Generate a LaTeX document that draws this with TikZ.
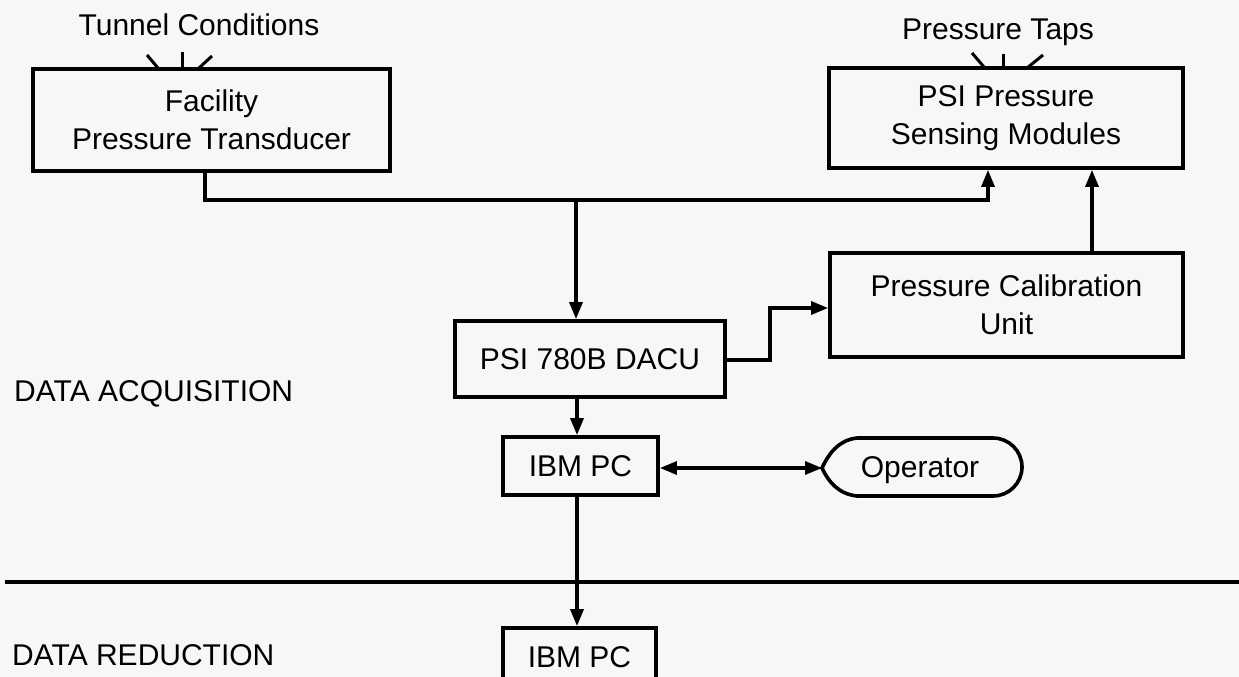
\documentclass[tikz,border=0pt]{standalone}
\usepackage{fontspec}
\setmainfont{Liberation Sans}
\usetikzlibrary{arrows.meta}
\definecolor{bg}{RGB}{247,247,247}
\begin{document}
\begin{tikzpicture}[x=1pt,y=-1pt,
  box/.style={draw, line width=3.8pt, inner sep=0pt, align=center, font=\fontsize{30}{38}\selectfont},
  lbl/.style={inner sep=0pt, font=\fontsize{30}{38}\selectfont},
  conn/.style={line width=3.2pt, -{Triangle[length=17pt,width=13pt]}},
  dconn/.style={line width=3.2pt, {Triangle[length=17pt,width=13pt]}-{Triangle[length=17pt,width=13pt]}},
  tick/.style={line width=3pt},
  divider/.style={line width=3.6pt}]
\useasboundingbox (0,0) rectangle (1239,677);
\fill[bg] (0,0) rectangle (1239,677);
\clip (0,0) rectangle (1239,677);

% nodes
\node[lbl] (tc) at (199,25) {Tunnel Conditions};
\node[box, minimum width=357pt, minimum height=102pt] (fac) at (211.5,120) {Facility\\Pressure Transducer};
\node[lbl] (pt) at (998,32) {Pressure Taps};
\node[box, minimum width=354pt, minimum height=100pt] (psi) at (1006,118) {PSI Pressure\\Sensing Modules};
\node[box, minimum width=353pt, minimum height=104pt] (cal) at (1006.5,305) {Pressure Calibration\\Unit};
\node[box, minimum width=270pt, minimum height=76pt] (dacu) at (590,359) {PSI 780B DACU};
\node[box, minimum width=155pt, minimum height=58pt] (pc1) at (580.5,466) {IBM PC};
\node[lbl] (op) at (920,470) {Operator};
\node[box, minimum width=153pt, minimum height=58pt] (pc2) at (579.5,657) {IBM PC};
\node[lbl, anchor=west] (acq) at (14,394) {DATA ACQUISITION};
\node[lbl, anchor=west] (red) at (12,655) {DATA REDUCTION};

% operator outline
\coordinate (opl) at (822,468);
\draw[line width=3.6pt] (993,438) -- (857,438) .. controls (838,440) and (828,455) .. (opl)
  .. controls (828,481) and (838,494) .. (857,496) -- (993,496)
  .. controls (1009,496) and (1022,483) .. (1022,467)
  .. controls (1022,451) and (1009,438) .. (993,438) -- cycle;

% input ticks
\draw[tick] (147,55) -- (158,68);
\draw[tick] (182,52) -- (182,69);
\draw[tick] (212,56) -- (199,68);
\draw[tick] (972,53) -- (984,67);
\draw[tick] (1003,54) -- (1003,68);
\draw[tick] (1043,55) -- (1027,68);

% connectors
\coordinate (a1) at (205,200);
\coordinate (a2) at (988,200);
\draw[conn] (fac.south -| a1) -- (a1) -- (a2) -- (psi.south -| a2);
\coordinate (j) at (576,200);
\draw[conn] (j) -- (dacu.north -| j);
\coordinate (c1) at (1092,0);
\draw[conn] (cal.north -| c1) -- (psi.south -| c1);
\coordinate (d1) at (770,360);
\coordinate (d2) at (770,308);
\draw[conn] (dacu.east |- d1) -- (d1) -- (d2) -- (cal.west |- d2);
\coordinate (v) at (577,0);
\draw[conn] (dacu.south -| v) -- (pc1.north -| v);
\draw[dconn] (pc1.east |- opl) -- (opl);
\draw[conn] (pc1.south -| v) -- (pc2.north -| v);

% divider
\coordinate (l1) at (5,582);
\coordinate (l2) at (1239,582);
\draw[divider] (l1) -- (l2);
\end{tikzpicture}
\end{document}
